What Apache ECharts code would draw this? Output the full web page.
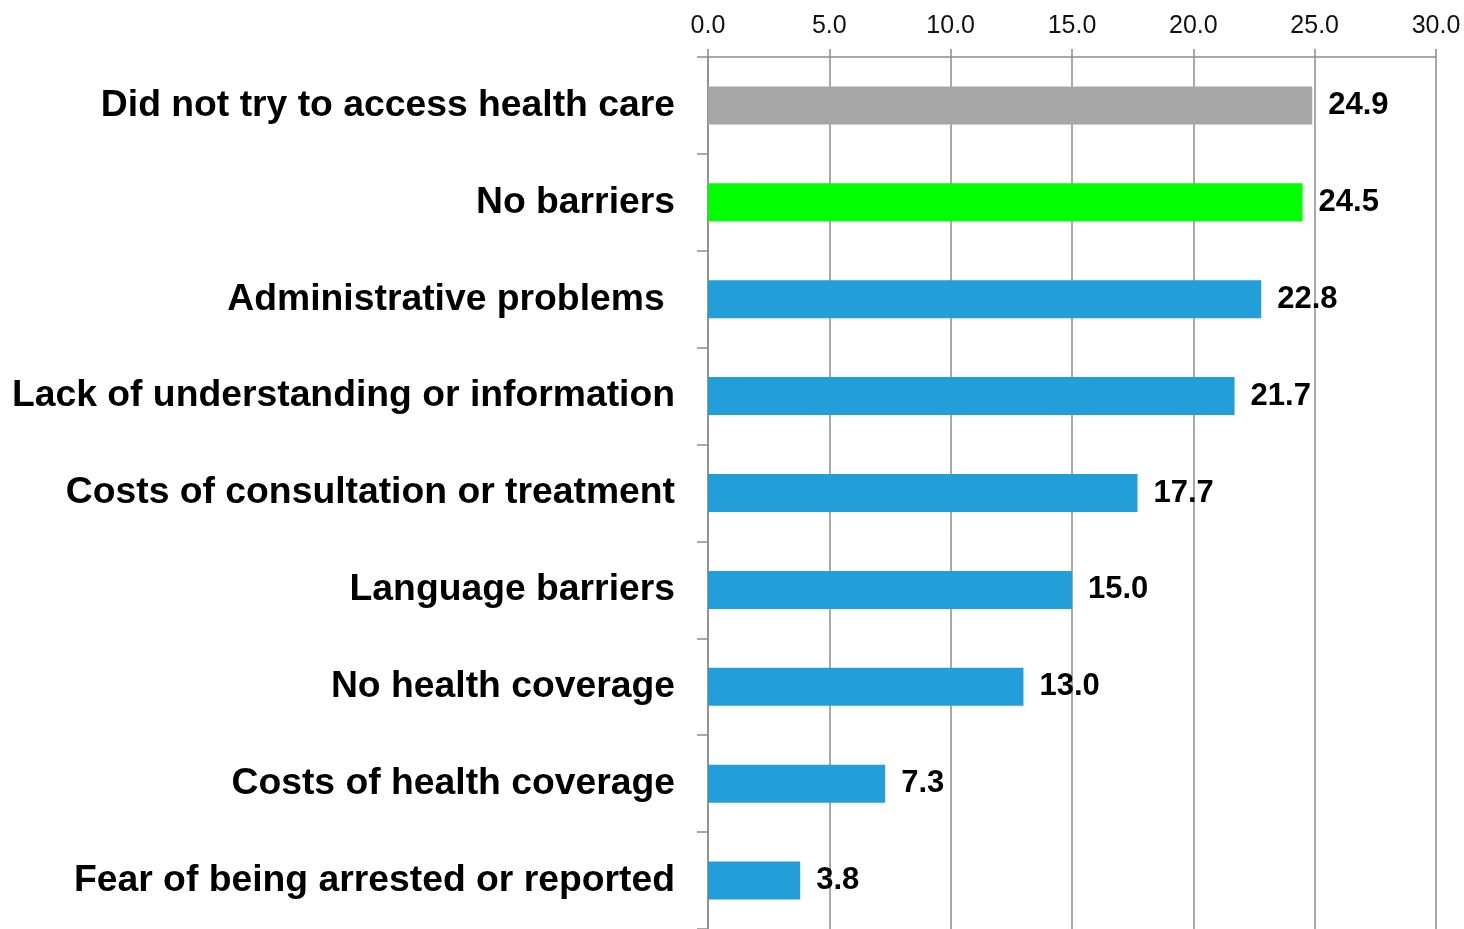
<!DOCTYPE html>
<html>
<head>
<meta charset="utf-8">
<script src="https://cdn.jsdelivr.net/npm/echarts@6/dist/echarts.min.js"></script>
<style>
  html, body { margin: 0; padding: 0; background: #fff; }
  #chart { width: 1464px; height: 929px; }
</style>
</head>
<body>
<div id="chart"></div>
<script>
const categories = [
  'Did not try to access health care',
  'No barriers',
  'Administrative problems ',
  'Lack of understanding or information',
  'Costs of consultation or treatment',
  'Language barriers',
  'No health coverage',
  'Costs of health coverage',
  'Fear of being arrested or reported',
];
const values = [24.9, 24.5, 22.8, 21.7, 17.7, 15.0, 13.0, 7.3, 3.8];
const barColors = ['#a6a6a6', '#00ff00', '#229fd9', '#229fd9', '#229fd9', '#229fd9', '#229fd9', '#229fd9', '#229fd9'];
const xTicks = [0, 5, 10, 15, 20, 25, 30];

const font = '"Liberation Sans", Arial, sans-serif';
const gridColor = '#8c8c8c';

const myChart = echarts.init(document.getElementById('chart'));
myChart.setOption({
  animation: false,
  grid: {
    left: 708,
    right: 28,
    top: 57,
    height: 875,
  },
  xAxis: {
    type: 'value',
    position: 'top',
    min: xTicks[0],
    max: xTicks[xTicks.length - 1],
    interval: 5,
    axisLine: { show: true, lineStyle: { color: gridColor, width: 1.5 } },
    axisTick: { show: true, length: 8, lineStyle: { color: gridColor, width: 1.5 } },
    splitLine: { show: true, lineStyle: { color: gridColor, width: 1.5 } },
    axisLabel: {
      margin: 18,
      color: '#111',
      fontFamily: font,
      fontSize: 25,
      formatter: v => v.toFixed(1),
    },
  },
  yAxis: {
    type: 'category',
    inverse: true,
    data: categories,
    axisLine: { show: true, lineStyle: { color: gridColor, width: 1.5 } },
    axisTick: { show: true, length: 11, lineStyle: { color: gridColor, width: 1.5 } },
    axisLabel: {
      margin: 33,
      color: '#000',
      fontFamily: font,
      fontSize: 37.3,
      fontWeight: 'bold',
    },
  },
  series: [{
    type: 'bar',
    barWidth: 38,
    data: values.map((v, i) => ({ value: v, itemStyle: { color: barColors[i] } })),
    label: {
      show: true,
      position: 'right',
      distance: 16,
      color: '#000',
      fontFamily: font,
      fontSize: 31,
      fontWeight: 'bold',
      formatter: p => p.value.toFixed(1),
    },
  }],
});
</script>
</body>
</html>
